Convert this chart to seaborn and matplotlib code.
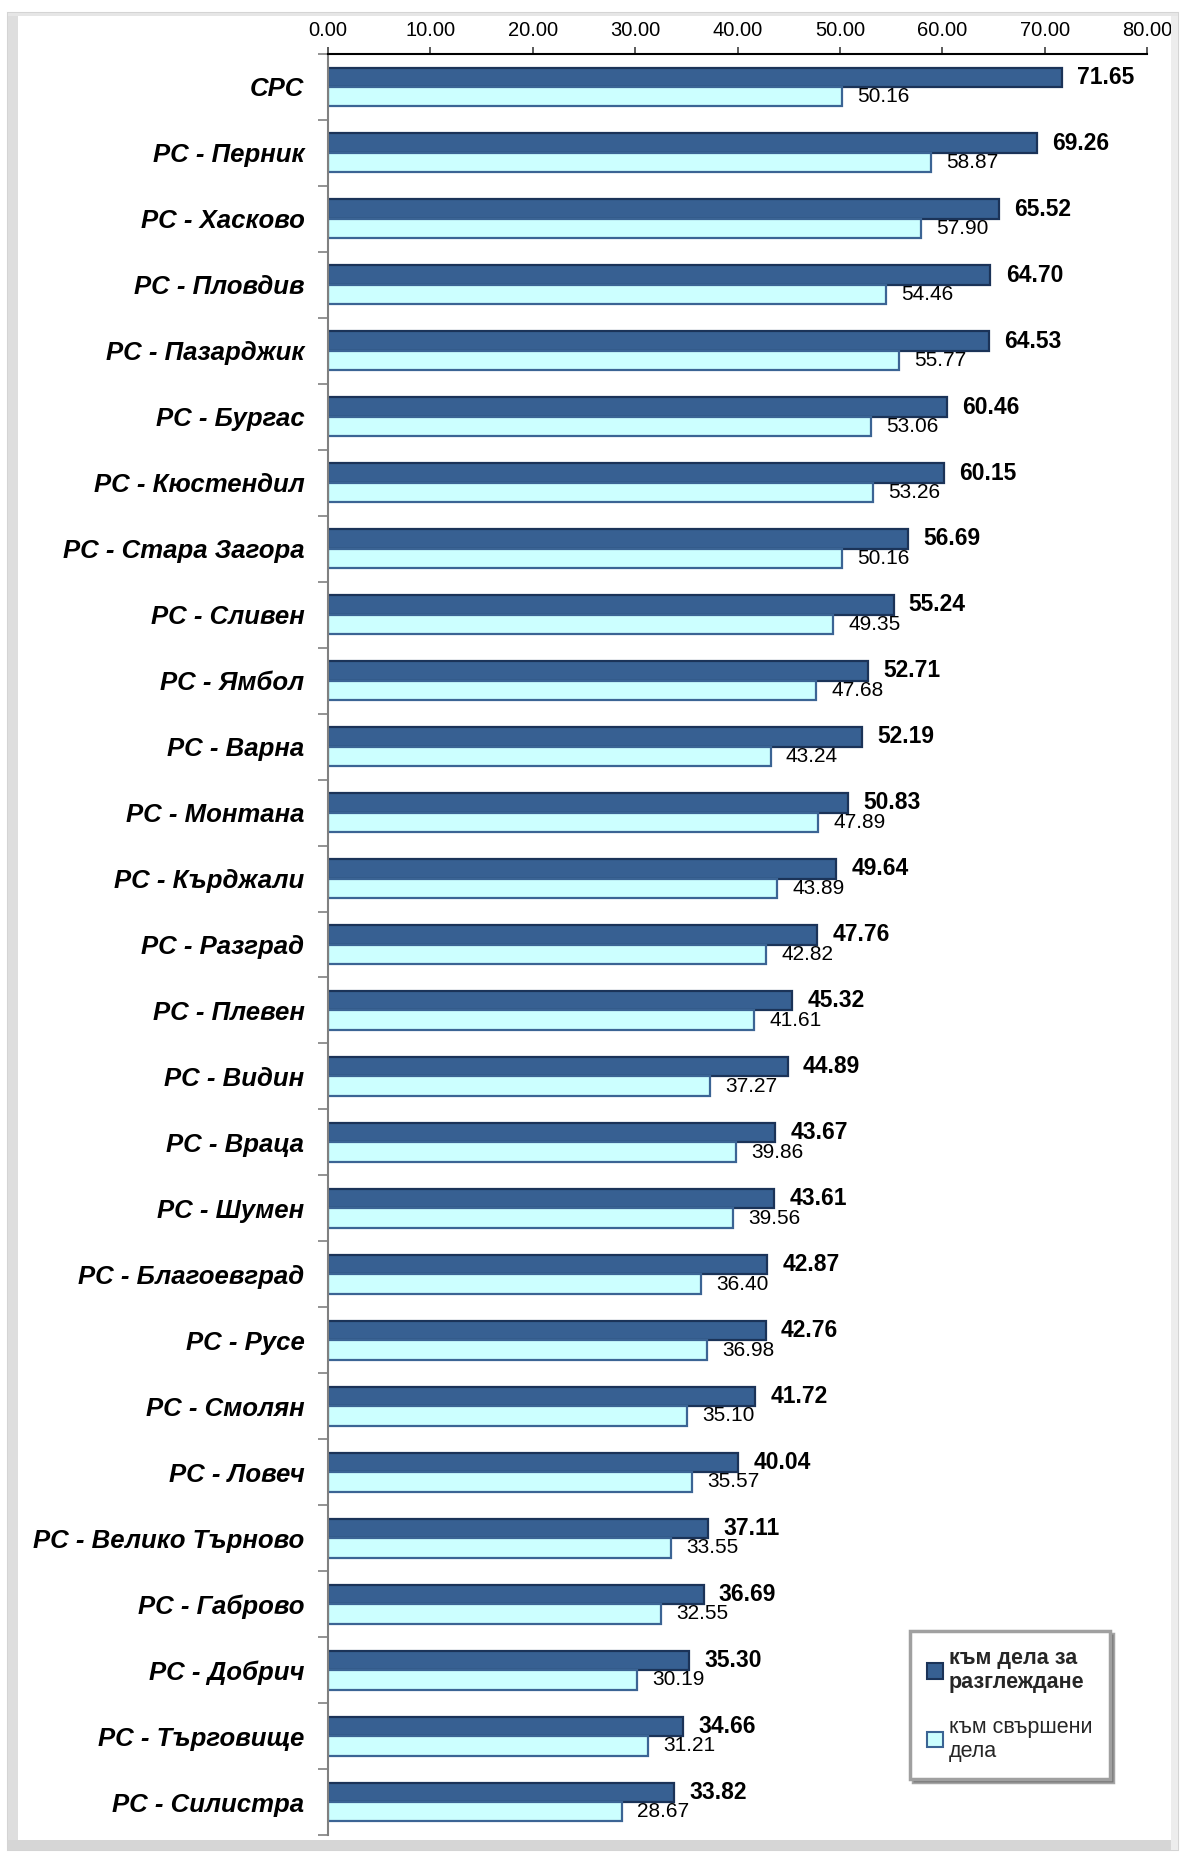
import numpy as np
import pandas as pd
import matplotlib
matplotlib.use("Agg")
import matplotlib.pyplot as plt
import seaborn as sns
from matplotlib.patches import Patch, Rectangle
from matplotlib.ticker import FormatStrFormatter

# ---------------- data ----------------
categories = [
    "СРС", "РС - Перник", "РС - Хасково", "РС - Пловдив", "РС - Пазарджик",
    "РС - Бургас", "РС - Кюстендил", "РС - Стара Загора", "РС - Сливен",
    "РС - Ямбол", "РС - Варна", "РС - Монтана", "РС - Кърджали",
    "РС - Разград", "РС - Плевен", "РС - Видин", "РС - Враца", "РС - Шумен",
    "РС - Благоевград", "РС - Русе", "РС - Смолян", "РС - Ловеч",
    "РС - Велико Търново", "РС - Габрово", "РС - Добрич", "РС - Търговище",
    "РС - Силистра",
]
to_review = [71.65, 69.26, 65.52, 64.70, 64.53, 60.46, 60.15, 56.69, 55.24,
             52.71, 52.19, 50.83, 49.64, 47.76, 45.32, 44.89, 43.67, 43.61,
             42.87, 42.76, 41.72, 40.04, 37.11, 36.69, 35.30, 34.66, 33.82]
to_done = [50.16, 58.87, 57.90, 54.46, 55.77, 53.06, 53.26, 50.16, 49.35,
           47.68, 43.24, 47.89, 43.89, 42.82, 41.61, 37.27, 39.86, 39.56,
           36.40, 36.98, 35.10, 35.57, 33.55, 32.55, 30.19, 31.21, 28.67]
series_names = ["към дела за\nразглеждане", "към свършени\nдела"]
x_ticks = [0, 10, 20, 30, 40, 50, 60, 70, 80]

df = pd.DataFrame({
    "category": categories * 2,
    "value": to_review + to_done,
    "series": [series_names[0]] * len(categories) + [series_names[1]] * len(categories),
})

# ---------------- style ----------------
W, H = 1184, 1854
DPI = 100
sns.set_theme(style="white")
plt.rcParams["font.family"] = ["Liberation Sans", "DejaVu Sans"]

dark_face, dark_edge = "#376092", "#1B3358"
light_face, light_edge = "#CCFFFF", "#3B6494"

fig = plt.figure(figsize=(W / DPI, H / DPI), dpi=DPI)
fig.patch.set_facecolor("white")

def fx(px):
    return px / W

def fy(py):
    return 1 - py / H

def frame_rect(x0, y0, x1, y1, fc, ec="none", lw=0):
    fig.patches.append(Rectangle((fx(x0), fy(y1)), fx(x1) - fx(x0), fy(y0) - fy(y1),
                                 transform=fig.transFigure, facecolor=fc,
                                 edgecolor=ec, lw=lw, zorder=0))

# decorative outer frame (bevel)
frame_rect(8, 13, 1178, 1850, "none", "#D4D4D4", 1.5)
frame_rect(8, 13, 18, 1850, "#DEDEDE")
frame_rect(8, 1840, 1178, 1850, "#D6D6D6")
frame_rect(1171, 13, 1178, 1850, "#EDEDED")
frame_rect(8, 13, 1178, 16, "#E6E6E6")

ax = fig.add_axes([fx(328), fy(1835), fx(1147) - fx(328), fy(54) - fy(1835)])
ax.set_facecolor("none")

sns.barplot(data=df, x="value", y="category", hue="series", orient="h",
            palette=[dark_face, light_face], width=0.59, saturation=1,
            ax=ax, legend=False)

for cont, ec in zip(ax.containers, [dark_edge, light_edge]):
    for bar in cont:
        bar.set_edgecolor(ec)
        bar.set_linewidth(1.6)

ax.bar_label(ax.containers[0], fmt="%.2f", padding=11, fontsize=16.5,
             fontweight="bold", color="black")
ax.bar_label(ax.containers[1], fmt="%.2f", padding=11, fontsize=15,
             color="black")

# axes
ax.set_xlim(0, 80)
ax.set_xticks(x_ticks)
ax.xaxis.set_major_formatter(FormatStrFormatter("%.2f"))
ax.xaxis.tick_top()
ax.xaxis.set_label_position("top")
ax.tick_params(axis="x", which="major", top=True, bottom=False, direction="out",
               length=5, width=1.2, color="#404040", labelsize=14.5, pad=5,
               labelcolor="black")
ax.set_xlabel("")
ax.set_ylabel("")

ax.set_yticks(np.arange(-0.5, len(categories), 1), minor=True)
ax.tick_params(axis="y", which="major", length=0, pad=17)
ax.tick_params(axis="y", which="minor", left=True, direction="out", length=7,
               width=1.2, color="#808080")
for lbl in ax.get_yticklabels():
    lbl.set_fontsize(18.5)
    lbl.set_fontweight("bold")
    lbl.set_fontstyle("italic")
    lbl.set_color("black")

for side in ["right", "bottom"]:
    ax.spines[side].set_visible(False)
ax.spines["top"].set_color("black")
ax.spines["top"].set_linewidth(1.5)
ax.spines["left"].set_color("#808080")
ax.spines["left"].set_linewidth(1.5)
ax.grid(False)

# legend
handles = [Patch(facecolor=dark_face, edgecolor=dark_edge, lw=1.5),
           Patch(facecolor=light_face, edgecolor=light_edge, lw=1.5)]
leg = fig.legend(handles, series_names, loc="center",
                 bbox_to_anchor=(fx(1010), fy(1705)),
                 bbox_transform=fig.transFigure,
                 fontsize=15.5, frameon=True, fancybox=False, shadow=True,
                 handlelength=0.7, handleheight=0.7, handletextpad=0.3,
                 labelspacing=1.1, borderpad=0.8, borderaxespad=0)
leg.get_frame().set_edgecolor("#A0A0A0")
leg.get_frame().set_linewidth(2.5)
leg.get_frame().set_facecolor("white")
for t in leg.get_texts():
    t.set_linespacing(1.2)
leg.get_texts()[0].set_fontweight("bold")

fig.savefig("out.png", dpi=DPI, facecolor="white")
